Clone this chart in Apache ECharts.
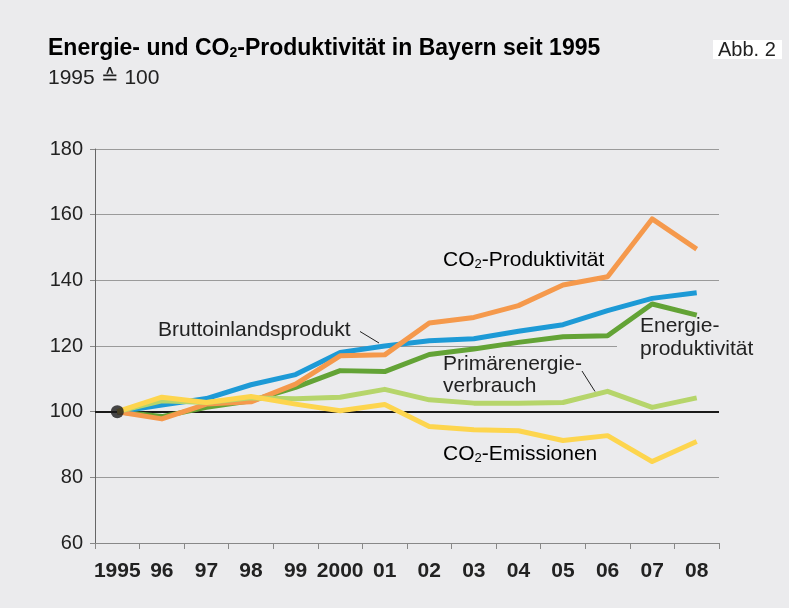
<!DOCTYPE html>
<html>
<head>
<meta charset="utf-8">
<script src="https://cdn.jsdelivr.net/npm/echarts@6/dist/echarts.min.js"></script>
<style>
html,body{margin:0;padding:0;background:#ebebed;}
#chart{width:789px;height:608px;}
</style>
</head>
<body>
<div id="chart"></div>
<script>
const years = ['1995','96','97','98','99','2000','01','02','03','04','05','06','07','08'];
const yTicks = [60, 80, 100, 120, 140, 160, 180];
const bip        = [100, 102.0, 104.0, 108.2, 111.3, 118.0, 120.0, 121.6, 122.2, 124.5, 126.5, 130.8, 134.5, 136.2];
const co2Prod    = [100, 97.8, 102.3, 103.0, 108.4, 117.0, 117.3, 127.0, 128.7, 132.3, 138.6, 141.1, 158.7, 149.5];
const energieProd= [100, 98.5, 101.3, 103.3, 107.4, 112.5, 112.2, 117.4, 119.1, 121.1, 122.8, 123.1, 132.8, 129.4];
const pev        = [100, 103.3, 102.8, 104.2, 103.9, 104.4, 106.8, 103.6, 102.6, 102.6, 102.8, 106.2, 101.3, 104.2];
const co2Em      = [100, 104.4, 102.8, 104.6, 102.3, 100.3, 102.2, 95.5, 94.5, 94.2, 91.2, 92.7, 84.8, 90.9];
const baseDot    = [[0, 100]];

const BG = '#ebebed';
const FONT = '"Liberation Sans", Arial, Helvetica, sans-serif';

const chart = echarts.init(document.getElementById('chart'));

function lineSeries(name, data, color, z) {
  return {
    name: name, type: 'line', data: data, symbol: 'none', z: z,
    lineStyle: { color: color, width: 5, join: 'round' },
    emphasis: { disabled: true }, silent: true
  };
}

const txt = (x, y, text, extra) => Object.assign({
  type: 'text', x: x, y: y, z: 200,
  style: Object.assign({ text: text, font: '21px ' + FONT, fill: '#222', textVerticalAlign: 'middle' }, extra || {})
});

const subRich = (size, weight) => ({
  a: { fontSize: size, fontWeight: weight, fontFamily: FONT, color: '#222', lineHeight: size + 2, verticalAlign: 'bottom' },
  s: { fontSize: Math.round(size * 0.62), fontWeight: weight, fontFamily: FONT, color: '#222', lineHeight: Math.round(size * 0.5), verticalAlign: 'bottom' }
});

chart.setOption({
  backgroundColor: BG,
  animation: false,
  grid: { left: 95, right: 70, top: 149, bottom: 65, containLabel: false },
  xAxis: {
    type: 'category', data: years, boundaryGap: true,
    axisLine: { lineStyle: { color: '#888', width: 1 } },
    axisTick: { show: true, length: 6, lineStyle: { color: '#888' }, alignWithLabel: false },
    axisLabel: { color: '#222', fontSize: 21, fontWeight: 'bold', fontFamily: FONT, margin: 18, interval: 0 },
    splitLine: { show: false }
  },
  yAxis: {
    type: 'value', min: 60, max: 180, interval: 20,
    axisLine: { show: true, lineStyle: { color: '#666', width: 1 } },
    axisTick: { show: true, length: 5, lineStyle: { color: '#888' } },
    axisLabel: { color: '#222', fontSize: 20, fontFamily: FONT, margin: 12 },
    splitLine: { show: true, lineStyle: { color: '#9a9a9a', width: 1 } }
  },
  series: [
    Object.assign(lineSeries('Energieproduktivität', energieProd, '#63a336', 3), {
      markLine: {
        silent: true, symbol: 'none', label: { show: false },
        lineStyle: { color: '#1a1a1a', width: 1.8, type: 'solid' },
        data: [{ yAxis: 100 }], z: 1
      }
    }),
    lineSeries('Bruttoinlandsprodukt', bip, '#1d9ad6', 4),
    lineSeries('CO2-Produktivität', co2Prod, '#f5994c', 5),
    lineSeries('Primärenergieverbrauch', pev, '#b6d56b', 6),
    lineSeries('CO2-Emissionen', co2Em, '#fdd54e', 7),
    {
      type: 'scatter', data: baseDot, symbolSize: 13, z: 20, silent: true,
      itemStyle: { color: '#1a1a1a' }
    }
  ],
  graphic: [
    // title
    { type: 'text', left: 48, top: 37, z: 200,
      style: { text: '{a|Energie- und CO}{s|2}{a|-Produktivität in Bayern seit 1995}', rich: subRich(23, 'bold') } },
    txt(48, 78, '1995 ≙ 100', { font: '21px ' + FONT }),
    // Abb. 2 box
    { type: 'rect', shape: { x: 713, y: 40, width: 69, height: 19 }, style: { fill: '#ffffff' }, z: 150 },
    txt(718, 50, 'Abb. 2', { font: '20px ' + FONT }),
    // gap in 120 gridline behind label
    { type: 'rect', shape: { x: 617, y: 343, width: 103, height: 5 }, style: { fill: BG }, z: 150 },
    // annotations
    { type: 'text', x: 443, y: 248, z: 200,
      style: { text: '{a|CO}{s|2}{a|-Produktivität}', rich: subRich(21, 'normal') } },
    txt(158, 330, 'Bruttoinlandsprodukt'),
    { type: 'line', shape: { x1: 360, y1: 331.5, x2: 379, y2: 343 }, style: { stroke: '#222', lineWidth: 1 }, z: 200 },
    txt(640, 326, 'Energie-'),
    txt(640, 349, 'produktivität'),
    txt(443, 364, 'Primärenergie-'),
    txt(443, 386, 'verbrauch'),
    { type: 'line', shape: { x1: 582, y1: 371, x2: 595, y2: 391.5 }, style: { stroke: '#222', lineWidth: 1 }, z: 200 },
    { type: 'text', x: 443, y: 442, z: 200,
      style: { text: '{a|CO}{s|2}{a|-Emissionen}', rich: subRich(21, 'normal') } }
  ]
});
</script>
</body>
</html>
